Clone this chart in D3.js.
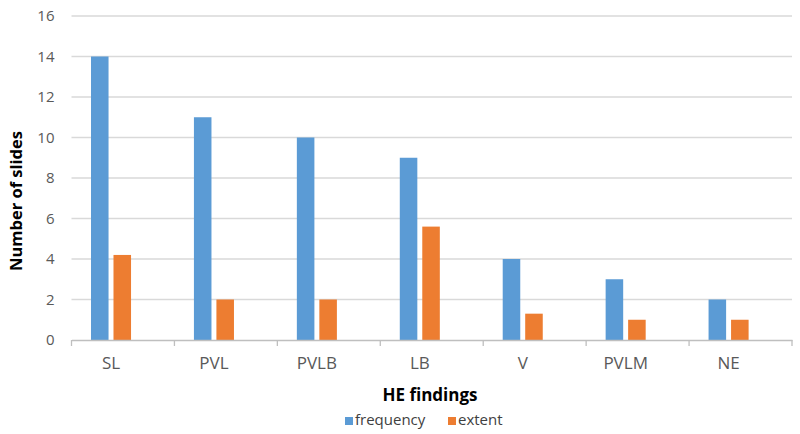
<!DOCTYPE html>
<html>
<head>
<meta charset="utf-8">
<script src="https://cdn.jsdelivr.net/npm/d3@7"></script>
<style>
  body { margin: 0; background: #fff; }
  svg { font-family: "Open Sans", "Noto Sans", sans-serif; }
</style>
</head>
<body>
<div id="chart"></div>
<script>
const categories = ["SL", "PVL", "PVLB", "LB", "V", "PVLM", "NE"];
const frequency = [14, 11, 10, 9, 4, 3, 2];
const extent = [4.2, 2, 2, 5.6, 1.3, 1, 1];
const seriesNames = ["frequency", "extent"];
const yTicks = [0, 2, 4, 6, 8, 10, 12, 14, 16];

const width = 800;
const height = 434;
const margin = { top: 16, right: 8, bottom: 94, left: 71.5 };
const colors = { frequency: "#5b9bd5", extent: "#ed7d31" };

const svg = d3.select("#chart")
  .append("svg")
  .attr("width", width)
  .attr("height", height);

const innerWidth = width - margin.left - margin.right;
const innerHeight = height - margin.top - margin.bottom;

const g = svg.append("g").attr("transform", `translate(${margin.left},${margin.top})`);

// groups sit left of the band centre in the original, hence align < 0.5
const x0 = d3.scaleBand().domain(categories).range([0, innerWidth])
  .paddingInner(0.611).paddingOuter(0.3055).align(0.31);
const x1 = d3.scaleBand().domain(seriesNames).range([0, x0.bandwidth()])
  .paddingInner(0.22);
const y = d3.scaleLinear().domain([0, 16]).range([innerHeight, 0]);

// gridlines
g.append("g")
  .selectAll("line")
  .data(yTicks.filter(d => d > 0))
  .join("line")
  .attr("x1", 0)
  .attr("x2", innerWidth)
  .attr("y1", d => y(d))
  .attr("y2", d => y(d))
  .attr("stroke", "#d9d9d9")
  .attr("stroke-width", 1.3);

// y axis labels
const yAxis = g.append("g")
  .call(d3.axisLeft(y).tickValues(yTicks).tickSize(0).tickPadding(17));
yAxis.select(".domain").remove();
yAxis.selectAll("text")
  .attr("font-size", 15)
  .attr("font-family", "Open Sans, sans-serif")
  .attr("fill", "#595959");

// bars
const data = categories.map((c, i) => ({ cat: c, frequency: frequency[i], extent: extent[i] }));
const groups = g.append("g")
  .selectAll("g")
  .data(data)
  .join("g")
  .attr("transform", d => `translate(${x0(d.cat)},0)`);

groups.selectAll("rect")
  .data(d => seriesNames.map(k => ({ key: k, value: d[k] })))
  .join("rect")
  .attr("x", d => x1(d.key))
  .attr("width", x1.bandwidth())
  .attr("y", d => y(d.value))
  .attr("height", d => y(0) - y(d.value))
  .attr("fill", d => colors[d.key]);

// x axis
const xAxis = g.append("g")
  .attr("transform", `translate(0,${innerHeight})`)
  .call(d3.axisBottom(x0).tickSize(0).tickPadding(17));
xAxis.select(".domain").attr("stroke", "#bfbfbf").attr("stroke-width", 1.3);
xAxis.selectAll("text")
  .attr("font-size", 17)
  .attr("font-family", "Open Sans, sans-serif")
  .attr("fill", "#595959");

// category boundary tick marks
const edges = d3.range(categories.length + 1).map(i => i * x0.step());
g.append("g")
  .selectAll("line")
  .data(edges)
  .join("line")
  .attr("x1", d => d)
  .attr("x2", d => d)
  .attr("y1", innerHeight)
  .attr("y2", innerHeight + 6)
  .attr("stroke", "#bfbfbf")
  .attr("stroke-width", 1.3);

// axis titles
svg.append("text")
  .attr("x", 430)
  .attr("y", 401)
  .attr("text-anchor", "middle")
  .attr("font-size", 17)
  .attr("font-weight", "bold")
  .attr("fill", "#000")
  .text("HE findings");

svg.append("text")
  .attr("transform", "translate(22,201) rotate(-90)")
  .attr("text-anchor", "middle")
  .attr("font-size", 16.5)
  .attr("font-weight", "bold")
  .attr("fill", "#000")
  .text("Number of slides");

// legend
const legendX = [345, 448];
const legend = svg.append("g");
seriesNames.forEach((name, i) => {
  legend.append("rect")
    .attr("x", legendX[i])
    .attr("y", 417)
    .attr("width", 8)
    .attr("height", 8)
    .attr("fill", colors[name]);
  legend.append("text")
    .attr("x", legendX[i] + 10)
    .attr("y", 425)
    .attr("font-size", 15)
    .attr("fill", "#404040")
    .text(name);
});
</script>
</body>
</html>
